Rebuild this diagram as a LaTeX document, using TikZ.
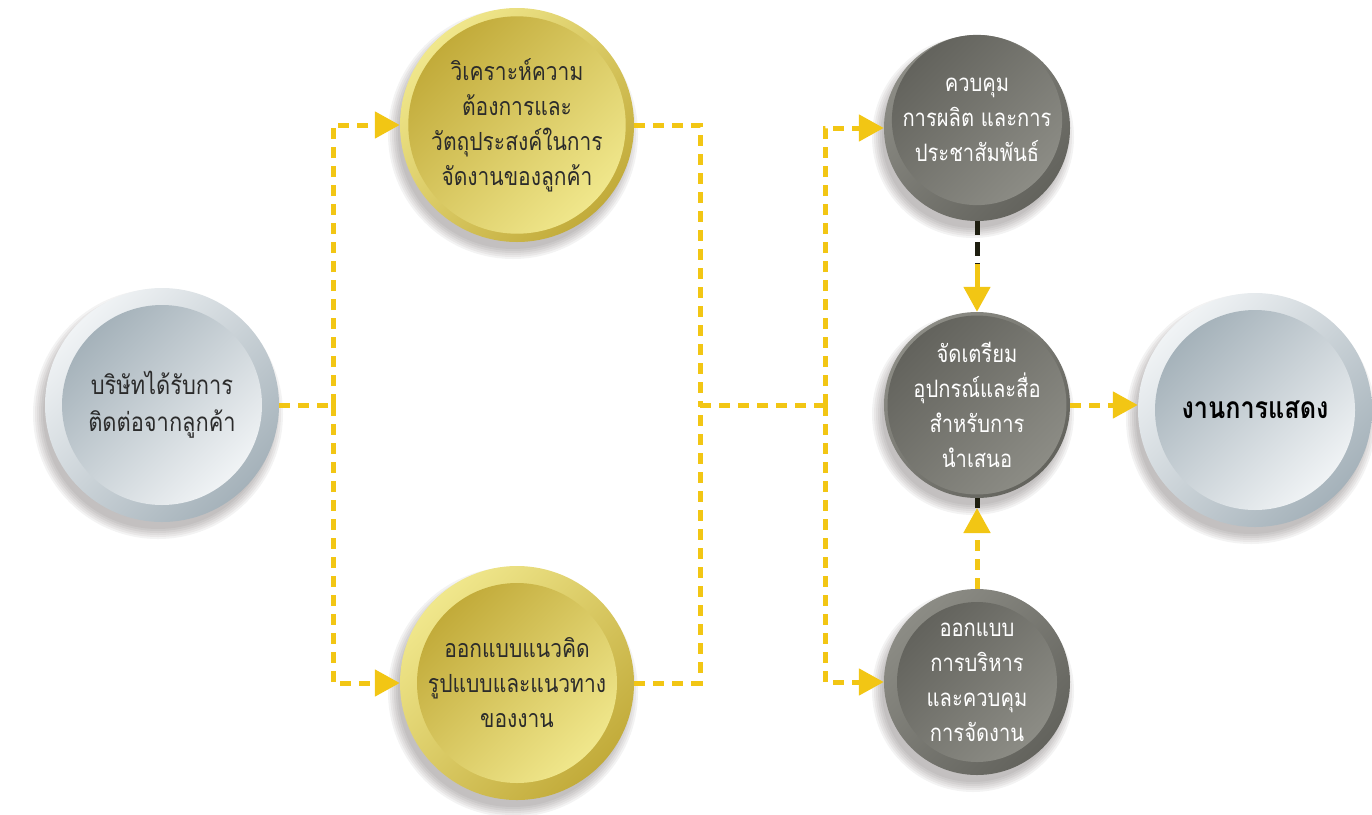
\documentclass[tikz,border=0pt]{standalone}
\usepackage{fontspec}
\newfontfamily\thaifont[Script=Thai, FakeStretch=0.84]{Loma}
\usetikzlibrary{arrows.meta}
\definecolor{yel}{HTML}{F2C614}
\definecolor{goldA}{HTML}{F0E78C}
\definecolor{goldB}{HTML}{C2AB3A}
\definecolor{grayA}{HTML}{8C8C85}
\definecolor{grayB}{HTML}{63635D}
\definecolor{silA}{HTML}{F0F3F5}
\definecolor{silB}{HTML}{A5B2BA}
\definecolor{txtdark}{HTML}{2B2B2B}
\definecolor{stub}{HTML}{1E1E10}
\definecolor{shadc}{HTML}{3A3030}
\tikzset{
  ring/.style={circle, inner sep=0pt, shading angle=45},
  bigout/.style={ring, minimum size=234pt},
  bigin/.style={ring, minimum size=200pt, align=center},
  smallout/.style={ring, minimum size=186pt},
  smallin/.style={ring, minimum size=160pt, align=center},
  goldO/.style={top color=goldA, bottom color=goldB, shading angle=45},
  goldI/.style={top color=goldB, bottom color=goldA, shading angle=45, text=txtdark,
     font=\thaifont\fontsize{25}{35}\selectfont},
  grayO/.style={top color=grayA, bottom color=grayB, shading angle=45},
  grayI/.style={top color=grayB, bottom color=grayA, shading angle=45, text=white,
     font=\thaifont\fontsize{24}{35}\selectfont},
  silO/.style={top color=silA, bottom color=silB, shading angle=45},
  silI/.style={top color=silB, bottom color=silA, shading angle=45, text=txtdark,
     font=\thaifont\fontsize{26}{37}\selectfont},
  shad/.style={circle, fill=shadc, opacity=0.06, inner sep=0pt},
  conn/.style={draw=yel, line width=5pt, dash pattern=on 11pt off 8pt},
  arr/.style={conn, -{Triangle[length=25pt,width=26pt]}},
  darkdash/.style={draw=stub, line width=5pt, dash pattern=on 14pt off 7pt},
}
\newcommand\shadowbig[2]{%
  \foreach \k in {0,...,5}{\node[shad, minimum size={230pt+\k*4pt}] at (#1-4,#2+9) {};}}
\newcommand\shadowsmall[2]{%
  \foreach \k in {0,...,5}{\node[shad, minimum size={182pt+\k*4pt}] at (#1-4,#2+9) {};}}
\begin{document}
\begin{tikzpicture}[x=1pt, y=-1pt]
\useasboundingbox (0,0) rectangle (1372,814);
% shadows
\shadowbig{162}{405}
\shadowbig{517}{125}
\shadowbig{517}{683}
\shadowsmall{977}{128}
\shadowsmall{977}{405}
\shadowsmall{977}{682}
\shadowbig{1255}{410}
% circles
\node[bigout, silO] (L) at (162,405) {};
\node[bigin, silI] (Lt) at (162,405) {บริษัทได้รับการ\\ติดต่อจากลูกค้า};
\node[bigout, goldO] (G1) at (517,125) {};
\node[bigin, goldI] (G1t) at (517,125) {วิเคราะห์ความ\\ต้องการและ\\วัตถุประสงค์ในการ\\จัดงานของลูกค้า};
\node[bigout, goldO] (G2) at (517,683) {};
\node[bigin, goldI] (G2t) at (517,683) {ออกแบบแนวคิด\\รูปแบบและแนวทาง\\ของงาน};
\node[smallout, grayO] (R1) at (977,128) {};
\node[smallin, grayI, yshift=8pt] (R1t) at (977,128) {ควบคุม\\การผลิต และการ\\ประชาสัมพันธ์};
\node[smallout, grayO] (R2) at (977,405) {};
\node[smallin, grayI] (R2t) at (977,405) {จัดเตรียม\\อุปกรณ์และสื่อ\\สำหรับการ\\นำเสนอ};
\node[smallout, grayO] (R3) at (977,682) {};
\node[smallin, grayI] (R3t) at (977,682) {ออกแบบ\\การบริหาร\\และควบคุม\\การจัดงาน};
\node[bigout, silO] (E) at (1255,410) {};
\node[bigin, silI, font=\thaifont\bfseries\fontsize{30}{37}\selectfont, text=black] (Et) at (1255,410) {งานการแสดง};
% junctions
\coordinate (j1) at (333,405);
\coordinate (j2) at (700,405);
\coordinate (j3) at (825,405);
\coordinate (k1) at (977,264);
\coordinate (k2) at (977,508);
% connectors
\draw[conn] (L.east) -- (j1);
\draw[arr] (j1) |- (G1.west);
\draw[arr] (j1) |- (G2.west);
\draw[conn] (G1.east) -| (j2);
\draw[conn] (G2.east) -| (j2);
\draw[conn] (j2) -- (j3);
\draw[arr] (j3) |- (R1.west);
\draw[arr] (j3) |- (R3.west);
\draw[darkdash] (R1.south) -- (k1);
\draw[arr, dash pattern=] (k1) -- (R2.north);
\draw[arr] (R3.north) -- (k2);
\draw[draw=stub, line width=5pt] (k2) -- (R2.south);
\draw[arr] (R2.east) -- (R2.east -| E.west);
\end{tikzpicture}
\end{document}
